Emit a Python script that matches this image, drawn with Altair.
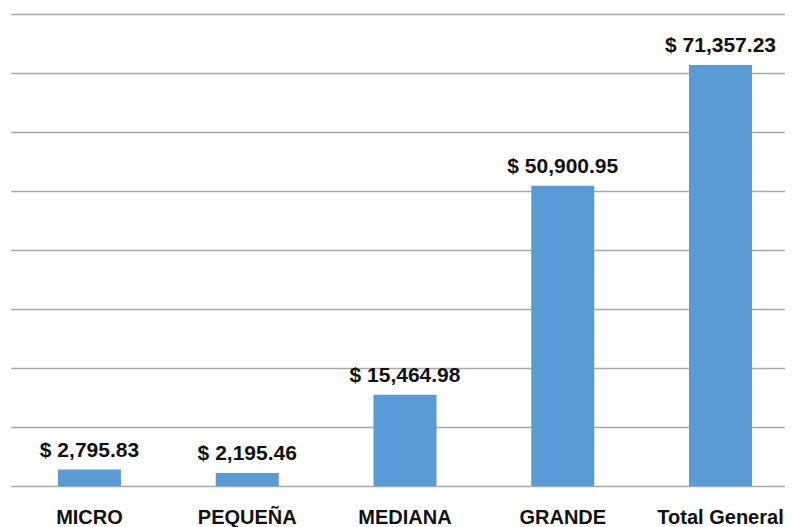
import altair as alt
import pandas as pd

categorias = ["MICRO", "PEQUEÑA", "MEDIANA", "GRANDE", "Total General"]
montos = [2795.83, 2195.46, 15464.98, 50900.95, 71357.23]
marcas_eje = [0, 10000, 20000, 30000, 40000, 50000, 60000, 70000, 80000]

df = pd.DataFrame({"categoria": categorias, "monto": montos})
df["etiqueta"] = ["$ " + f"{v:,.2f}" for v in montos]

FONT = "Liberation Sans"

base = alt.Chart(df).encode(
    x=alt.X(
        "categoria:N",
        sort=categorias,
        scale=alt.Scale(range=[0.6, 789.4], paddingInner=0, paddingOuter=0),
        axis=alt.Axis(
            title=None, labelAngle=0, domain=False, ticks=False, tickSize=0,
            labelPadding=37, labelBaseline="alphabetic", labelFont=FONT,
            labelFontWeight="bold", labelFontSize=20, labelColor="#111111",
            labelOverlap=False,
        ),
    ),
    y=alt.Y(
        "monto:Q",
        scale=alt.Scale(domain=[0, 80000], nice=False),
        axis=alt.Axis(
            title=None, labels=False, ticks=False, domain=False,
            values=marcas_eje, gridColor="#a8a8a8", gridWidth=1.5,
        ),
    ),
)

bars = base.mark_bar(color="#5b9bd5", size=63)
text = base.mark_text(
    baseline="alphabetic", dy=-13, font=FONT, fontSize=21,
    fontWeight="bold", color="#111111",
).encode(text="etiqueta:N")

chart = (
    (bars + text)
    .properties(
        width=775,
        height=472,
        padding={"left": 2, "top": 6, "right": 0, "bottom": 41},
        autosize=alt.AutoSizeParams(type="none"),
        background="white",
    )
    .configure_view(stroke=None)
)

chart.save("out.html", embed_options={"renderer": "svg", "actions": False})
